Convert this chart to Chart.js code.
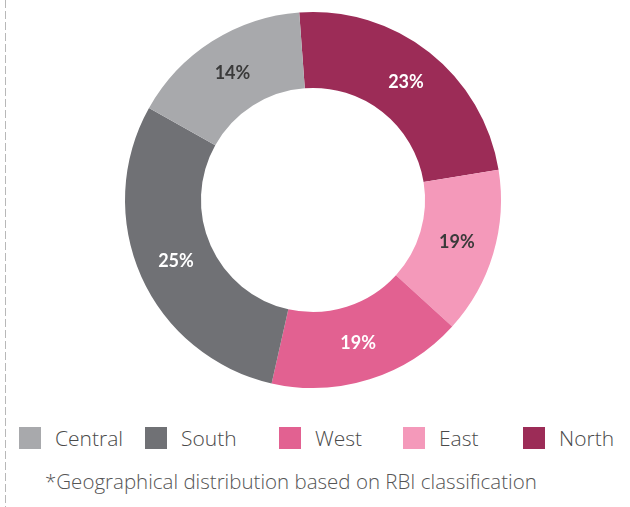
<!DOCTYPE html>
<html>
<head>
<meta charset="utf-8">
<script src="https://cdn.jsdelivr.net/npm/chart.js@4"></script>
<style>
    body { margin: 0; background: #fff; font-family: 'Open Sans', sans-serif; }
    #wrap { position: relative; width: 630px; height: 507px; overflow: hidden; }
    #dash { position: absolute; left: 5px; top: 0; width: 1px; height: 507px;
            background: repeating-linear-gradient(to bottom, #b8b8b8 0 8px, transparent 8px 11px); }
    #chartBox { position: absolute; left: 0; top: 0; width: 630px; height: 400px; }
    #legend { position: absolute; left: 19px; top: 427px; display: flex; align-items: center; }
    .item { display: flex; align-items: center; }
    .item:nth-child(1) { width: 126px; }
    .item:nth-child(2) { width: 134px; }
    .item:nth-child(3) { width: 124px; }
    .item:nth-child(4) { width: 120px; }
    .swatch { width: 22px; height: 22px; margin-right: 14px; }
    .item span { font-size: 21px; line-height: 22px; color: #4a4a4a; font-weight: 300; }
    #note { position: absolute; left: 45px; top: 470px; font-size: 20.5px; line-height: 22px;
            color: #555; font-weight: 300; white-space: nowrap; }
</style>
</head>
<body>
<div id="wrap">
    <div id="dash"></div>
    <div id="chartBox"><canvas id="donut"></canvas></div>
    <div id="legend"></div>
    <div id="note">*Geographical distribution based on RBI classification</div>
</div>
<script>
// slices in drawing order (clockwise from the top)
const regions = ['North', 'East', 'West', 'South', 'Central'];
// slice shares as drawn in the picture
const shares = [23.6, 14.3, 16.8, 29.6, 15.7];
// percentages printed on the slices
const shareLabels = ['23%', '19%', '19%', '25%', '14%'];
const colors = ['#9c2c57', '#f499ba', '#e26191', '#707175', '#a8a9ac'];
const labelColors = ['#ffffff', '#3a3a3a', '#ffffff', '#ffffff', '#3a3a3a'];
// legend order
const legendOrder = ['Central', 'South', 'West', 'East', 'North'];

// draw percentage text in the middle of each arc
const sliceLabels = {
    id: 'sliceLabels',
    afterDatasetsDraw(chart) {
        const ctx = chart.ctx;
        const meta = chart.getDatasetMeta(0);
        ctx.save();
        ctx.font = 'bold 18px Lato';
        ctx.textAlign = 'center';
        ctx.textBaseline = 'middle';
        meta.data.forEach((arc, i) => {
            const p = arc.tooltipPosition();
            ctx.fillStyle = labelColors[i];
            ctx.fillText(shareLabels[i], p.x, p.y);
        });
        ctx.restore();
    }
};

const chart = new Chart(document.getElementById('donut'), {
    type: 'doughnut',
    data: {
        labels: regions,
        datasets: [{
            data: shares,
            backgroundColor: colors,
            borderWidth: 0
        }]
    },
    options: {
        responsive: true,
        maintainAspectRatio: false,
        animation: false,
        rotation: -4.2,
        cutout: '59.6%',
        layout: { padding: { top: 12, bottom: 12, left: 0, right: 4 } },
        plugins: {
            legend: { display: false },
            tooltip: { enabled: false }
        }
    },
    plugins: [sliceLabels]
});

// html legend built from the same arrays
const legendEl = document.getElementById('legend');
legendOrder.forEach(name => {
    const i = regions.indexOf(name);
    const item = document.createElement('div');
    item.className = 'item';
    item.innerHTML = '<div class="swatch" style="background:' + colors[i] + '"></div><span>' + name + '</span>';
    legendEl.appendChild(item);
});
</script>
</body>
</html>
